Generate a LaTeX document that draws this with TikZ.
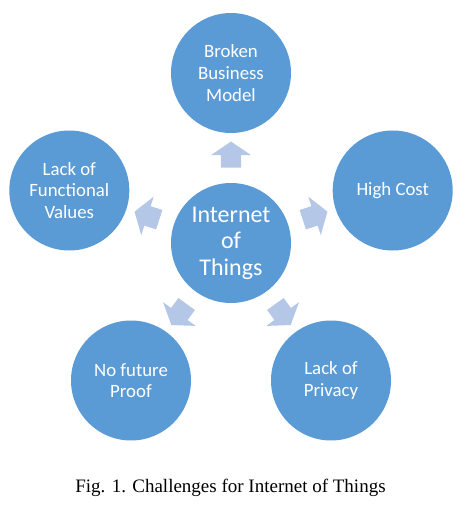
\documentclass[tikz,border=0pt]{standalone}
\usepackage{fontspec}
\setmainfont{Liberation Serif}
\newfontfamily\calibri{Carlito}
\usepackage{tikz}
\usetikzlibrary{positioning,shapes.arrows}
\definecolor{circblue}{HTML}{5B9BD5}
\definecolor{arrowblue}{HTML}{B4C7E7}
\tikzset{
    challenge/.style={
           circle,
           fill=circblue,
           minimum size=120pt,
           inner sep=0pt,
           text=white,
           align=center,
           font=\calibri\fontsize{18.8}{21.7}\selectfont,
           },
    hub/.style={
           challenge,
           font=\calibri\fontsize{24}{26.5}\selectfont,
           },
    blockarrow/.style={
           single arrow,
           fill=arrowblue,
           draw=none,
           inner xsep=0pt,
           inner ysep=10pt,
           minimum height=26pt,
           minimum width=40pt,
           single arrow head extend=10pt,
           single arrow tip angle=112,
           single arrow head indent=0pt,
           sloped, allow upside down,
           },
}

\begin{document}
\begin{tikzpicture}[x=1pt,y=1pt]
    \useasboundingbox (0,0) rectangle (465,-513);

    \node[hub] (iot) at (231,-243) {Internet\\of\\Things};
    \node[challenge,above of=iot,node distance=170pt]
        (bbm) {Broken\\Business\\Model};
    \node[challenge,yshift=52.5pt,right of=iot,node distance=161.7pt]
        (hc) {High Cost};
    \node[challenge,yshift=52.5pt,left of=iot,node distance=161.7pt]
        (lfv) {Lack of\\Functional\\Values};
    \node[challenge,yshift=-137.5pt,right of=iot,node distance=100pt]
        (lp) {Lack of\\Privacy};
    \node[challenge,yshift=-137.5pt,left of=iot,node distance=100pt]
        (nfp) {No future\\Proof};

    \path (iot) -- node[blockarrow]{} (bbm);
    \path (iot) -- node[blockarrow]{} (hc);
    \path (iot) -- node[blockarrow]{} (lfv);
    \path (iot) -- node[blockarrow]{} (lp);
    \path (iot) -- node[blockarrow]{} (nfp);

    \node[anchor=base,font=\fontsize{19}{22}\selectfont] (cap) at (230.5,-492)
        {Fig. 1. Challenges for Internet of Things};

\end{tikzpicture}
\end{document}
